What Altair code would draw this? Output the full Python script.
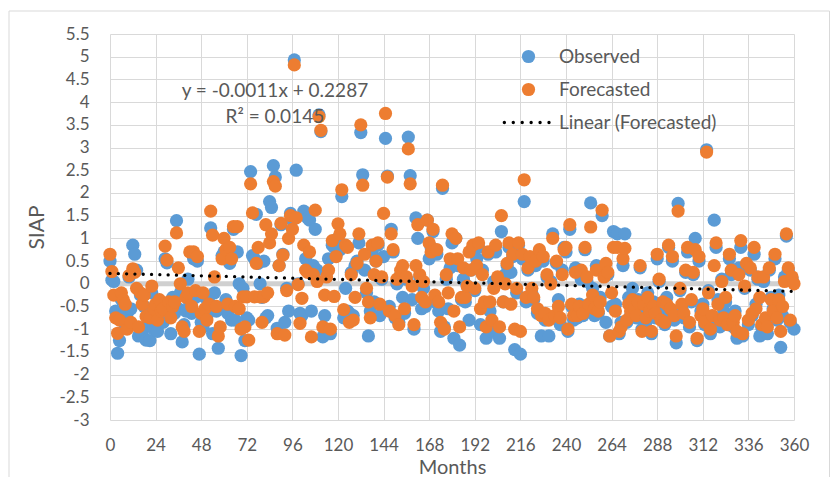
import altair as alt
import pandas as pd

# ---- data ----
observed = [
    0.50, 0.08, 0.05, -0.60, -1.53, -1.25, -0.35, -0.70, -0.95, -0.65, 0.15, -0.55,
    0.85, 0.65, 0.30, -1.15, -0.25, -1.10, -0.50, -1.24, -0.90, -1.25, -0.20, -1.00,
    -0.75, -1.05, -0.40, -0.55, -0.85, 0.55, 0.46, -0.50, -1.10, -0.30, -0.65, 1.39,
    -0.55, -0.20, -1.28, -0.90, -0.60, 0.10, -0.45, -0.65, 0.55, -0.30, 0.50, -1.55,
    -0.85, -0.95, -0.30, -0.70, -0.40, 1.23, -1.10, -0.20, -0.60, -1.42, -0.55, 0.62,
    0.70, -0.35, -0.65, 0.45, -0.80, 1.20, -0.80, 0.70, 0.00, -1.58, -0.10, -1.25,
    -0.75, -0.80, 2.47, 0.62, 0.55, 1.53, 0.45, 0.00, -0.30, 0.50, -0.75, -0.70,
    1.81, 1.68, 2.60, 2.35, -0.98, 0.40, 1.30, 0.65, -0.85, -0.10, -0.60, 1.55,
    1.40, 4.93, 2.50, 0.00, -0.65, -0.70, 1.60, 0.55, 1.45, 1.40, -0.60, 0.40,
    1.20, 0.30, 3.72, 3.35, -1.17, -0.70, 0.25, 0.55, -1.10, 0.85, 0.80, 0.95,
    1.00, 0.75, 1.92, -0.75, -0.10, -0.60, -0.65, 0.25, -0.70, 0.40, 0.50, 0.90,
    3.33, 2.40, 0.30, -0.20, -1.15, -0.60, 0.70, -0.40, 0.50, 0.85, -0.70, 0.10,
    0.60, 3.20, 2.37, -0.50, 1.20, 0.70, -0.75, 0.00, -0.85, 0.20, -0.30, -0.65,
    0.10, 3.23, 2.38, -0.35, -1.00, 1.45, 1.00, 0.15, -0.55, -0.10, -0.50, 1.40,
    0.55, 0.80, 1.15, -0.40, 0.65, -0.60, -1.05, 2.10, -0.95, 0.10, -0.55, 0.35,
    0.90, -1.20, 1.00, 0.40, -1.35, -0.35, 0.10, -0.40, -0.05, -0.80, 0.30, 0.75,
    -0.15, 0.55, 0.80, -0.90, 0.30, -0.50, -1.20, 0.65, -0.60, -1.05, 0.05, 0.70,
    0.10, -1.20, 1.15, -0.40, 0.20, 0.40, 0.80, 0.25, 0.60, -1.45, -0.20, 0.85,
    -1.55, 0.55, 1.81, -0.40, 0.30, 0.55, -0.20, -0.35, 0.40, -0.65, 0.70, -1.15,
    0.50, -0.80, 0.15, -1.15, 0.05, 1.10, -0.75, 0.45, -0.35, -0.90, 0.30, 0.80,
    0.70, -1.05, 1.20, -0.50, -0.80, 0.35, -0.75, -0.45, 0.10, -0.70, 0.75, 0.05,
    -0.55, 1.78, -0.10, -0.70, 0.40, -0.65, -0.30, 1.50, 0.30, -0.85, 0.20, -1.15,
    -0.50, 1.15, -0.45, 1.10, -1.10, -0.85, 0.40, 1.10, -0.85, -0.30, -0.70, -0.10,
    -0.60, -0.75, -0.35, 0.35, -1.00, -0.55, -0.85, -0.20, -0.65, -1.10, -0.40, -0.75,
    0.55, 0.05, -0.70, -0.50, -0.90, -0.30, 0.80, -0.65, 0.50, -0.80, -1.30, 1.77,
    -0.15, -0.55, -0.75, 0.25, 0.70, -0.95, -0.40, 0.20, 1.00, -1.25, 0.50, -0.60,
    -0.45, -0.90, 2.95, -0.15, -1.10, -0.75, 1.40, 0.80, -0.35, -0.95, 0.10, -0.60,
    -0.40, -0.85, 0.55, 0.20, -0.95, -0.60, -1.20, 0.35, 0.80, -1.15, -0.10, 0.35,
    -0.90, 0.30, -0.70, 0.65, -0.45, 0.10, -1.15, -0.95, 0.05, -0.80, -1.10, 0.30,
    -0.30, -0.55, 0.55, -0.80, -0.25, -1.40, -0.70, 0.15, 1.05, 0.30, -0.85, 0.10,
    -1.00,
]

forecasted = [
    0.65, 0.27, -0.25, -0.75, -1.09, -0.80, -0.20, -0.35, -0.45, -1.00, 0.18, -0.85,
    0.33, 0.25, -0.10, -0.95, -0.20, -0.45, -0.25, -0.72, -0.70, -0.75, -0.05, -0.55,
    -0.45, -0.80, -0.35, -0.60, -0.55, 0.83, 0.52, -0.40, -0.75, -0.50, -0.40, 1.12,
    0.35, 0.00, -0.95, -1.05, -0.30, -0.20, 0.70, -0.50, 0.70, -0.15, 0.60, -1.05,
    -0.65, -0.20, -0.55, -0.80, -0.45, 1.60, 1.07, 0.15, -0.50, -1.15, -0.95, 0.55,
    1.00, 0.75, -0.45, 0.80, 0.55, 1.26, -0.50, 1.26, -0.55, -1.00, -0.29, -0.95,
    -0.29, -1.24, 2.20, 1.56, -0.29, 0.45, 0.80, -0.29, -0.85, -0.29, 1.30, -0.20,
    0.90, 1.10, 2.25, 2.15, -1.10, 0.40, 1.33, 0.63, -1.13, -0.15, 1.00, 1.50,
    1.20, 4.82, 1.45, -0.02, -0.87, -0.32, 0.85, 0.30, 0.25, 0.70, -1.17, 0.20,
    1.62, 0.05, 3.68, 3.38, -0.95, -0.25, 0.15, 0.30, -1.00, 0.95, -0.28, 0.60,
    1.32, 1.10, 2.07, -0.57, 0.85, 0.80, -0.85, 0.20, -0.80, -0.30, 0.45, 1.10,
    3.50, 2.17, 0.65, -0.10, -0.40, -0.75, 0.85, 0.20, 0.50, 0.90, -0.45, 0.15,
    1.55, 3.75, 2.35, -0.60, 1.10, 0.75, -0.70, 0.10, -0.90, 0.30, 0.40, -0.55,
    0.15, 2.97, 2.20, -0.05, -0.90, 0.40, 1.30, 0.20, -0.30, 0.05, -0.40, 1.40,
    0.90, 0.70, 1.20, -0.25, 0.75, -0.40, -0.85, 2.17, -1.00, 0.20, -0.20, 0.55,
    1.10, -0.60, 1.00, 0.55, -0.95, -0.30, 0.35, -0.30, -0.05, 0.70, 0.30, 0.85,
    -0.10, 0.40, 0.90, -0.55, 0.20, -0.40, -0.95, 0.70, -0.40, -0.80, -0.10, 0.85,
    0.15, -0.95, 1.50, -0.40, 0.00, 0.45, 0.90, -0.45, 0.65, -1.00, -0.10, 0.90,
    -1.05, 0.65, 2.29, -0.30, 0.35, 0.60, -0.10, -0.30, 0.50, -0.55, 0.75, -0.70,
    0.60, -0.65, 0.20, -0.80, 0.00, 1.00, -0.70, 0.50, -0.50, -0.75, 0.20, 0.75,
    0.80, -1.00, 1.30, -0.45, -0.70, 0.25, -0.70, -0.50, 0.30, -0.65, 0.80, 0.15,
    -0.45, 1.25, -0.25, -0.55, 0.30, -0.60, -0.40, 1.62, 0.15, 0.45, 0.25, -1.15,
    -0.20, 0.80, -0.60, 0.80, -1.05, -0.95, 0.55, 0.78, -0.80, -0.45, -0.60, -0.35,
    -0.55, -0.70, -0.40, 0.40, -1.05, -0.45, -0.75, -0.30, -0.60, -1.05, -0.50, -0.65,
    0.65, 0.10, -0.80, -0.40, -0.85, -0.45, 0.85, -0.55, 0.60, -0.70, -1.15, 1.60,
    -0.10, -0.45, -0.65, 0.30, 0.80, -0.85, -0.35, 0.25, 0.75, -1.20, 0.60, -0.70,
    -0.55, -0.85, 2.90, -0.20, -1.00, -0.70, 0.40, 0.90, -0.45, -0.80, 0.05, -0.75,
    -0.30, -0.90, 0.65, 0.30, -0.85, -0.70, -1.05, 0.20, 0.95, -1.10, -0.05, 0.45,
    -0.80, 0.35, -0.65, 0.80, -0.55, 0.15, -0.30, -0.90, 0.15, -0.75, -0.95, 0.35,
    -0.35, -0.60, 0.65, -0.75, -0.35, -1.05, -0.50, 0.05, 1.10, 0.35, -0.80, 0.15,
    0.00,
]

series_names = ["Observed", "Forecasted", "Linear (Forecasted)"]
series_colors = ["#5B9BD5", "#ED7D31", "#000000"]

x_ticks = [0, 24, 48, 72, 96, 120, 144, 168, 192, 216, 240, 264, 288, 312, 336, 360]
y_ticks = [-3, -2.5, -2, -1.5, -1, -0.5, 0, 0.5, 1, 1.5, 2, 2.5, 3, 3.5, 4, 4.5, 5, 5.5]

trend_slope = [-0.0011]
trend_intercept = [0.2287]
trend_range = [0, 360]
equation_lines = ["y = -0.0011x + 0.2287", "R\u00b2 = 0.0145"]

# ---- tables ----
n = len(observed)
months = list(range(n))
points = pd.DataFrame({
    "month": months + months,
    "value": observed + forecasted,
    "series": ["Observed"] * n + ["Forecasted"] * n,
})
trend = pd.DataFrame({
    "month": trend_range,
    "value": [trend_intercept[0] + trend_slope[0] * m for m in trend_range],
})
eq_df = pd.DataFrame({"label": ["\n".join(equation_lines)]})
one_row = pd.DataFrame({"k": [0]})

FONT = "Lato"
GREY = "#595959"


def dot(cx, r=0.25):
    return f"M{cx - r},0a{r},{r} 0 1,0 {2 * r},0a{r},{r} 0 1,0 {-2 * r},0Z"


dotted_path = "".join(dot(c) for c in [-3.65, -2.3, -0.95, 0.4, 1.75, 3.1])

x_scale = alt.Scale(domain=[0, 360], nice=False, zero=False)
y_scale = alt.Scale(domain=[-3, 5.5], nice=False, zero=False)
x_axis = alt.Axis(
    values=x_ticks, title="Months", labelPadding=17, labelFlush=False,
    titleY=53, titleBaseline="alphabetic", titleFontSize=20, grid=True,
)
y_axis = alt.Axis(
    values=y_ticks, title="SIAP", labelExpr="datum.value + ''",
    labelPadding=21, labelFlush=False, labelOverlap=False,
    titleX=-67, titleY=193, titleBaseline="alphabetic", grid=True,
)
x_enc = alt.X("month:Q", scale=x_scale, axis=x_axis)
y_enc = alt.Y("value:Q", scale=y_scale, axis=y_axis)

legend = alt.Legend(
    title=None, orient="none", legendX=409, legendY=13,
    labelFont=FONT, labelFontSize=19, labelColor=GREY,
    symbolSize=175, labelOffset=21, rowPadding=13,
    symbolOpacity=1, symbolStrokeWidth=0, padding=0,
)

zero_band = alt.Chart(one_row).mark_rule(color="#D0D0D0", strokeWidth=5).encode(
    x=alt.XDatum(0, type="quantitative", scale=x_scale, axis=x_axis),
    x2=alt.X2Datum(360),
    y=alt.YDatum(0, type="quantitative", scale=y_scale, axis=y_axis),
)

scatter = alt.Chart(points).mark_point(filled=True, opacity=1, size=175).encode(
    x=x_enc,
    y=y_enc,
    color=alt.Color("series:N",
                    scale=alt.Scale(domain=series_names, range=series_colors),
                    legend=legend),
    shape=alt.Shape("series:N",
                    scale=alt.Scale(domain=series_names,
                                    range=["circle", "circle", dotted_path]),
                    legend=legend),
)

trend_line = alt.Chart(trend).mark_line(
    color="black", strokeWidth=3.3, strokeDash=[0.01, 8.3], strokeCap="round"
).encode(x=x_enc, y=y_enc)

eq_text = alt.Chart(eq_df).mark_text(
    font=FONT, fontSize=19, color=GREY, align="center", baseline="alphabetic",
    lineBreak="\n", lineHeight=26,
).encode(
    x=alt.XDatum(86.8, type="quantitative", scale=x_scale, axis=x_axis),
    y=alt.YDatum(4.11, type="quantitative", scale=y_scale, axis=y_axis),
    text="label:N",
)

border = alt.Chart(one_row).mark_rect(
    fill="transparent", stroke="#D9D9D9", strokeWidth=1
).encode(
    x=alt.value(-101), x2=alt.value(719.5), y=alt.value(-23), y2=alt.value(460)
)

chart = (
    alt.layer(border, zero_band, scatter, trend_line, eq_text)
    .properties(
        width=684, height=386,
        autosize=alt.AutoSizeParams(type="none"),
        padding={"left": 110, "top": 34, "right": 36, "bottom": 57},
        background="white",
    )
    .configure_view(strokeWidth=0)
    .configure_axis(
        gridColor="#D9D9D9", gridWidth=1, domain=False, ticks=False, tickSize=0,
        labelFont=FONT, labelFontSize=17, labelColor=GREY,
        titleFont=FONT, titleFontSize=21, titleColor=GREY, titleFontWeight="normal",
    )
)

chart.save("out.html", embed_options={"renderer": "svg", "actions": False})
